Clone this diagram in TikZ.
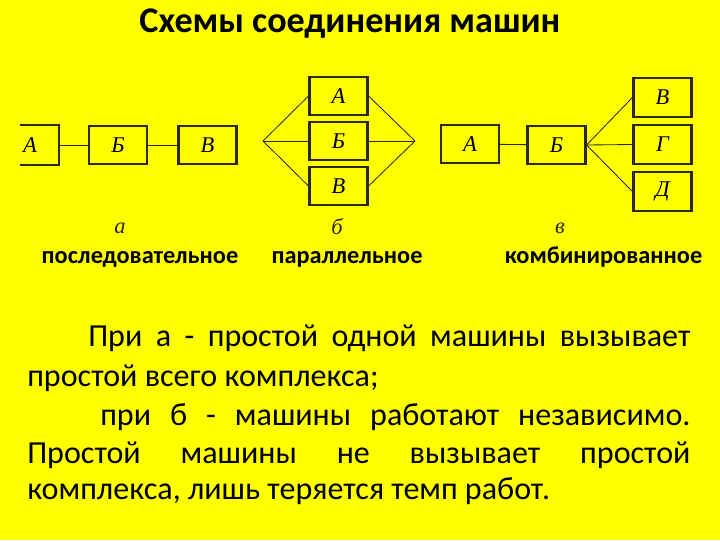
\documentclass[tikz,border=0pt]{standalone}
\usepackage{fontspec}
\setmainfont{Carlito}
\newfontfamily\boxfont{Liberation Serif}
\usetikzlibrary{positioning}

\definecolor{bgyellow}{RGB}{255,255,0}
\definecolor{inkline}{RGB}{45,40,20}

\tikzset{
	machine/.style={draw=inkline, line width=1.5pt, minimum width=1.45cm, minimum height=0.97cm, inner sep=0pt, font=\boxfont\itshape\fontsize{16}{16}\selectfont},
	bare/.style={minimum width=1.45cm, minimum height=0.97cm, inner sep=0pt, font=\boxfont\itshape\fontsize{16}{16}\selectfont},
	conn/.style={draw=inkline, line width=0.6pt},
	schemelbl/.style={anchor=base, font=\boxfont\itshape\fontsize{16}{16}\selectfont, text=inkline},
	kindlbl/.style={anchor=base, font=\bfseries\fontsize{17.3}{18}\selectfont},
	bodyline/.style={anchor=base west, inner sep=0pt, font=\fontsize{22.8}{24}\selectfont}
}

\begin{document}
\begin{tikzpicture}[x=0.025cm, y=-0.025cm]
	\fill[bgyellow] (0,0) rectangle (720,540);
	\useasboundingbox (0,0) rectangle (720,540);

	\node[anchor=base, font=\bfseries\fontsize{25.7}{27}\selectfont] (title) at (350,32) {Схемы соединения машин};

	% a: serial
	\coordinate (aedge) at (20,145);
	\node[bare] (aA) at (30,145) {А};
	\node[machine] (aB) at (118,145) {Б};
	\node[machine] (aV) at (207.5,145) {В};
	\draw[draw=inkline, line width=1.5pt] (aA.north east -| aedge) -- (aA.north east) -- (aA.south east) -- (aA.south east -| aedge);
	\draw[conn] (aA) -- (aB);
	\draw[conn] (aB) -- (aV);
	\node[schemelbl] (lbla) at (120,233) {а};

	% b: parallel
	\node[machine] (bA) at (338.5,96) {А};
	\node[machine] (bB) at (338.5,141) {Б};
	\node[machine] (bV) at (338.5,186) {В};
	\coordinate (bin) at (263,141);
	\coordinate (bout) at (415,141);
	\foreach \m in {bA,bB,bV}{
		\draw[conn] (bin) -- (\m.west);
		\draw[conn] (\m.east) -- (bout);
	}
	\node[schemelbl] (lblb) at (337,234) {б};

	% c: combined
	\node[machine] (cA) at (470,144) {А};
	\node[machine] (cB) at (556.5,145) {Б};
	\node[machine] (cV) at (662.5,97.5) {В};
	\node[machine] (cG) at (662.5,144.5) {Г};
	\node[machine] (cD) at (662.5,191.5) {Д};
	\draw[conn] (cA) -- (cB);
	\foreach \m in {cV,cG,cD}
		\draw[conn] (cB.east) -- (\m.west);
	\node[schemelbl] (lblc) at (560,233) {в};

	\node[kindlbl] (kinda) at (140,263) {последовательное};
	\node[kindlbl] (kindb) at (347,263) {параллельное};
	\node[kindlbl] (kindc) at (603.5,263) {комбинированное};

	% text
	\node[bodyline] (t1) at (88,346) {\makebox[15.05cm][s]{При а - простой одной машины вызывает}};
	\node[bodyline] (t2) at (27,386) {простой всего комплекса;};
	\node[bodyline] (t3) at (100,425) {\makebox[14.75cm][s]{при б - машины работают независимо.}};
	\node[bodyline] (t4) at (27,463) {\makebox[16.575cm][s]{Простой машины не вызывает простой}};
	\node[bodyline] (t5) at (27,499) {комплекса, лишь теряется темп работ.};
\end{tikzpicture}
\end{document}
